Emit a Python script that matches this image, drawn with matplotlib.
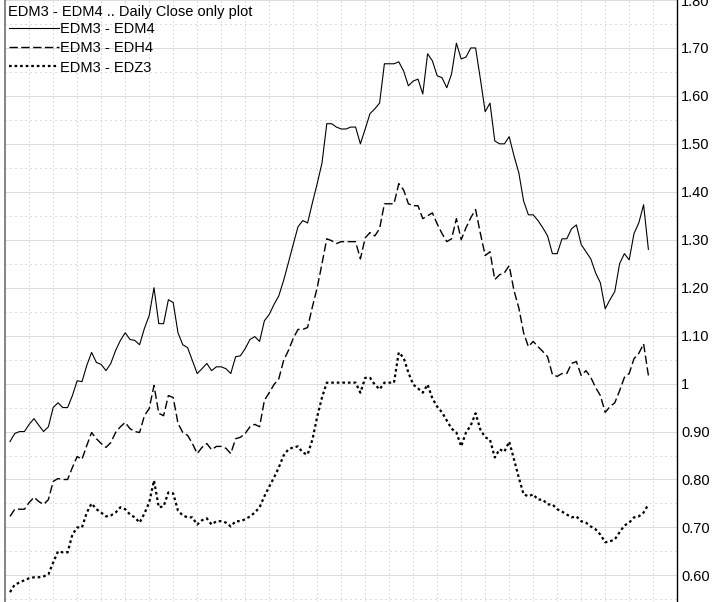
import numpy as np
import matplotlib
matplotlib.use('Agg')
import matplotlib.pyplot as plt

plt.rcParams['font.family'] = ['Liberation Sans', 'DejaVu Sans']

# ── Daily close spreads (one value per trading day) ──────────────────────────
EDM4 = [0.879, 0.896, 0.900, 0.900, 0.915, 0.927, 0.913, 0.900, 0.910, 0.950,
        0.960, 0.950, 0.950, 0.975, 1.006, 1.004, 1.038, 1.065, 1.044, 1.040,
        1.027, 1.042, 1.069, 1.090, 1.106, 1.092, 1.090, 1.081, 1.115, 1.142,
        1.200, 1.125, 1.125, 1.175, 1.169, 1.106, 1.081, 1.075, 1.048, 1.021,
        1.031, 1.042, 1.027, 1.035, 1.035, 1.031, 1.021, 1.056, 1.058, 1.073,
        1.092, 1.098, 1.088, 1.131, 1.144, 1.165, 1.183, 1.215, 1.252, 1.290,
        1.327, 1.340, 1.335, 1.377, 1.417, 1.460, 1.542, 1.542, 1.535, 1.531,
        1.531, 1.535, 1.535, 1.500, 1.531, 1.563, 1.573, 1.585, 1.667, 1.667,
        1.667, 1.671, 1.652, 1.621, 1.631, 1.635, 1.604, 1.688, 1.673, 1.642,
        1.638, 1.617, 1.646, 1.710, 1.677, 1.681, 1.700, 1.700, 1.635, 1.567,
        1.585, 1.506, 1.500, 1.500, 1.515, 1.475, 1.440, 1.381, 1.352, 1.352,
        1.340, 1.325, 1.308, 1.271, 1.271, 1.302, 1.302, 1.323, 1.331, 1.290,
        1.275, 1.260, 1.231, 1.210, 1.156, 1.175, 1.192, 1.250, 1.271, 1.258,
        1.313, 1.335, 1.373, 1.280]

EDH4 = [0.723, 0.738, 0.738, 0.738, 0.752, 0.763, 0.754, 0.748, 0.758, 0.796,
        0.802, 0.800, 0.800, 0.825, 0.848, 0.842, 0.871, 0.898, 0.885, 0.875,
        0.867, 0.877, 0.898, 0.910, 0.919, 0.906, 0.900, 0.898, 0.933, 0.948,
        0.996, 0.938, 0.933, 0.975, 0.971, 0.917, 0.898, 0.892, 0.875, 0.854,
        0.867, 0.875, 0.862, 0.869, 0.869, 0.865, 0.854, 0.885, 0.888, 0.896,
        0.910, 0.915, 0.910, 0.965, 0.981, 0.998, 1.010, 1.048, 1.069, 1.094,
        1.113, 1.113, 1.117, 1.160, 1.200, 1.250, 1.302, 1.298, 1.292, 1.296,
        1.296, 1.296, 1.296, 1.260, 1.304, 1.315, 1.308, 1.323, 1.375, 1.375,
        1.375, 1.417, 1.404, 1.375, 1.371, 1.371, 1.344, 1.350, 1.356, 1.333,
        1.313, 1.296, 1.302, 1.344, 1.300, 1.325, 1.346, 1.363, 1.313, 1.267,
        1.275, 1.217, 1.227, 1.231, 1.246, 1.194, 1.158, 1.106, 1.077, 1.088,
        1.077, 1.067, 1.056, 1.019, 1.015, 1.021, 1.021, 1.042, 1.046, 1.017,
        1.027, 1.013, 0.992, 0.975, 0.940, 0.952, 0.960, 0.985, 1.013, 1.021,
        1.052, 1.063, 1.083, 1.017]

EDZ3 = [0.565, 0.581, 0.585, 0.590, 0.594, 0.596, 0.596, 0.598, 0.602, 0.627,
        0.650, 0.648, 0.648, 0.685, 0.700, 0.700, 0.731, 0.750, 0.738, 0.731,
        0.723, 0.725, 0.731, 0.742, 0.738, 0.727, 0.721, 0.710, 0.729, 0.752,
        0.798, 0.742, 0.744, 0.773, 0.771, 0.735, 0.725, 0.721, 0.721, 0.706,
        0.715, 0.719, 0.706, 0.713, 0.713, 0.710, 0.702, 0.713, 0.713, 0.717,
        0.723, 0.731, 0.742, 0.765, 0.785, 0.804, 0.825, 0.850, 0.863, 0.867,
        0.869, 0.856, 0.852, 0.883, 0.931, 0.971, 1.002, 1.002, 1.002, 1.002,
        1.002, 1.002, 1.002, 0.981, 1.012, 1.012, 0.998, 0.988, 1.002, 1.002,
        1.002, 1.065, 1.054, 1.023, 0.998, 0.990, 0.981, 0.998, 0.969, 0.952,
        0.940, 0.923, 0.906, 0.898, 0.869, 0.898, 0.913, 0.938, 0.904, 0.888,
        0.883, 0.846, 0.863, 0.858, 0.879, 0.842, 0.804, 0.769, 0.765, 0.769,
        0.758, 0.758, 0.748, 0.748, 0.738, 0.733, 0.727, 0.721, 0.723, 0.713,
        0.710, 0.702, 0.696, 0.685, 0.669, 0.671, 0.675, 0.690, 0.704, 0.710,
        0.721, 0.723, 0.731, 0.748]

LABELS = ['EDM3 - EDM4', 'EDM3 - EDH4', 'EDM3 - EDZ3']
TITLE = 'EDM3 - EDM4 .. Daily Close only plot'
Y_TICKS = [0.60, 0.70, 0.80, 0.90, 1.00, 1.10, 1.20, 1.30, 1.40, 1.50, 1.60, 1.70, 1.80]
Y_TICK_LABELS = ['0.60', '0.70', '0.80', '0.90', '1', '1.10', '1.20', '1.30',
                 '1.40', '1.50', '1.60', '1.70', '1.80']

W, H = 712, 602
fig = plt.figure(figsize=(W / 100, H / 100), dpi=100)
ax = fig.add_axes([5 / W, 0, 672 / W, 1])

days = np.arange(len(EDM4))
ax.set_xlim(-1.04, 138.96)
ax.set_ylim(0.5445, 1.80)

# grid: dense dots every 0.10, sparse dots every 0.05, weekly verticals
grid_c = '#bdbdbd'
for v in np.arange(0.6, 1.81, 0.1):
    ax.axhline(v, color=grid_c, lw=0.72, ls=(0, (1, 1)), zorder=0)
for v in np.arange(0.55, 1.80, 0.1):
    ax.axhline(v, color=grid_c, lw=0.72, ls=(0, (1, 4)), zorder=0)
for k in range(1, 28):
    ax.axvline(-1.04 + 5 * k, color=grid_c, lw=0.72, ls=(0, (1, 3)), zorder=0)

l1, = ax.plot(days, EDM4, color='black', lw=0.8, label=LABELS[0])
l2, = ax.plot(days, EDH4, color='black', lw=1.0, dashes=(6, 2.5), label=LABELS[1])
l3, = ax.plot(days, EDZ3, color='black', lw=1.6, dashes=(1.2, 1.3), label=LABELS[2])

ax.yaxis.tick_right()
ax.set_yticks(Y_TICKS)
ax.set_yticklabels(Y_TICK_LABELS)
ax.tick_params(axis='y', length=0, pad=3, labelsize=10.5, labelcolor='black')
ax.set_xticks([])
for t in ax.get_yticklabels():
    t.set_clip_on(False)

ax.spines['top'].set_visible(False)
ax.spines['bottom'].set_visible(False)
ax.spines['right'].set_color('black')
ax.spines['right'].set_linewidth(1.0)
ax.spines['left'].set_color('#707070')
ax.spines['left'].set_linewidth(1.2)

fig.text(8 / W, 1 - 12 / H, TITLE, fontsize=10.5, va='center', ha='left')
ax.legend(handles=[l1, l2, l3], loc='upper left',
          bbox_to_anchor=(9 / W, 1 - 22 / H), bbox_transform=fig.transFigure,
          frameon=False, fontsize=10.5, handlelength=3.4, handletextpad=0.1,
          labelspacing=0.36, borderpad=0, borderaxespad=0)

plt.savefig('out.png', dpi=100, facecolor='white')
plt.close()
